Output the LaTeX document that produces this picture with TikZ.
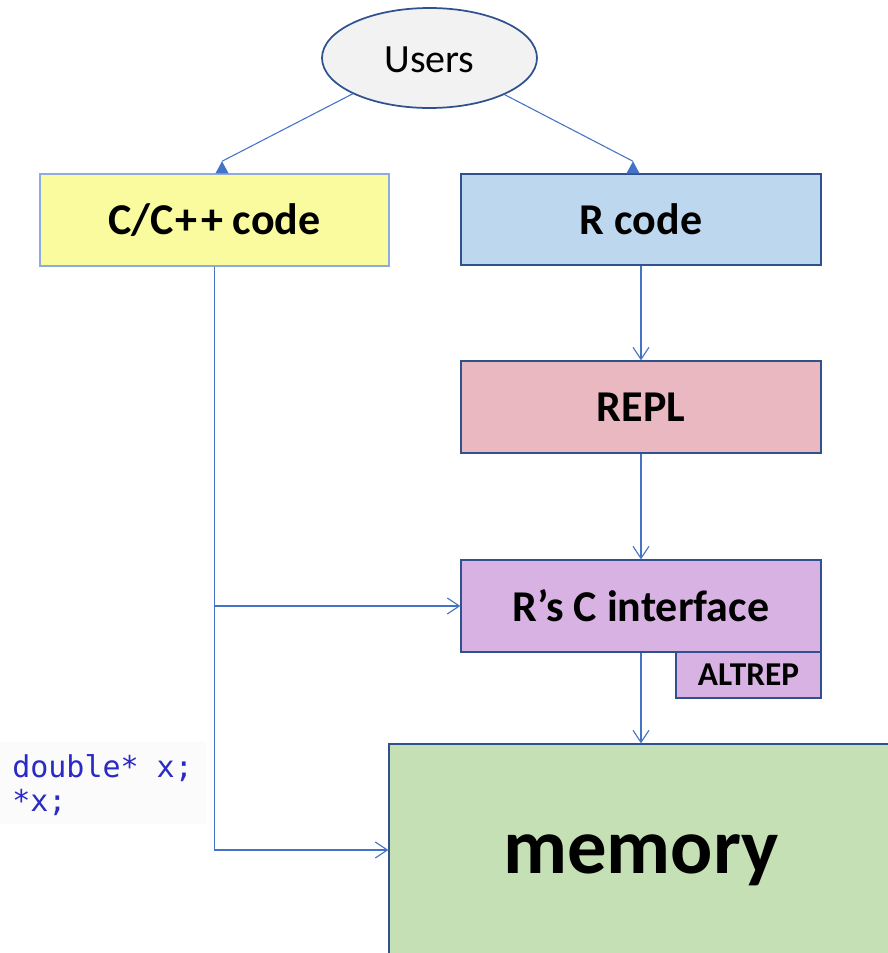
\documentclass[tikz,border=0pt]{standalone}
\usepackage{fontspec}
\setmainfont{Carlito}
\newfontfamily\codefont{DejaVu Sans Mono}
\usetikzlibrary{arrows.meta,shapes.geometric}
\definecolor{conn}{HTML}{4472C4}
\definecolor{edge}{HTML}{2F528F}
\definecolor{edgelight}{HTML}{8FAADC}
\definecolor{cyellow}{HTML}{FAFA9E}
\definecolor{cblue}{HTML}{BDD7EE}
\definecolor{cpink}{HTML}{EAB8C0}
\definecolor{cpurple}{HTML}{D9B2E4}
\definecolor{cgreen}{HTML}{C5E0B4}
\definecolor{cgrey}{HTML}{F2F2F2}
\definecolor{codeblue}{HTML}{2A2AC4}
\definecolor{codebg}{HTML}{FBFBFB}
\def\u{0.75pt}
\tikzset{
  box/.style={draw=edge, line width=1.1pt, rectangle, inner sep=0pt, font=\bfseries\fontsize{33}{36}\selectfont},
  link/.style={draw=conn, line width=0.8pt},
  arr/.style={link, -{Straight Barb[length=9pt,width=12pt,line width=0.8pt]}},
}
\begin{document}
\begin{tikzpicture}[x=0.75pt,y=-0.75pt]
\useasboundingbox (0,0) rectangle (888,953);
\clip (0,0) rectangle (888,953);
\fill[white] (0,0) rectangle (888,953);

% nodes
\node[ellipse, draw=edge, line width=1.3pt, fill=cgrey, minimum width=215*\u, minimum height=100*\u, inner sep=0pt,
      font=\fontsize{30}{32}\selectfont] (users) at (429.5,58) {\raisebox{-11pt}[0pt][0pt]{Users}};
\node[box, draw=edgelight, fill=cyellow, minimum width=349*\u, minimum height=92*\u] (cc) at (214.5,220) {C/C\kern1.5pt+\kern2.5pt+ code};
\node[box, fill=cblue, minimum width=360*\u, minimum height=91*\u] (rc) at (641,219.5) {R code};
\node[box, fill=cpink, minimum width=360*\u, minimum height=92*\u] (repl) at (641,407) {REPL};
\node[box, fill=cpurple, minimum width=360*\u, minimum height=92*\u] (rci) at (641,606) {R’s C interface};
\node[box, fill=cpurple, minimum width=145*\u, minimum height=46*\u, font=\bfseries\fontsize{25}{27}\selectfont] (alt) at (748.5,675) {ALTREP};
\node[box, fill=cgreen, minimum width=504*\u, minimum height=212*\u, font=\bfseries\fontsize{59}{62}\selectfont] (mem) at (641,850) {\raisebox{-17.5pt}[0pt][0pt]{memory}};

\fill[codebg] (0,742) rectangle (206,824);
\node[anchor=west, inner sep=0pt, text=codeblue, align=left, font=\codefont\fontsize{22.5}{25}\selectfont] (code) at (12,785) {double* x;\\*x;};

% connectors from Users (triangle markers sitting on box tops)
\coordinate (tl) at ([xshift=7.5*\u, yshift=12*\u]cc.north);
\coordinate (tr) at ([xshift=-8*\u, yshift=12*\u]rc.north);
\draw[link] (users.205) -- (tl);
\draw[link] (users.334) -- (tr);
\fill[conn] ([xshift=-6.5*\u]cc.north -| tl) -- (tl) -- ([xshift=6.5*\u]cc.north -| tl) -- cycle;
\fill[conn] ([xshift=-6.5*\u]rc.north -| tr) -- (tr) -- ([xshift=6.5*\u]rc.north -| tr) -- cycle;

% vertical chain
\draw[arr] (rc.south) -- (repl.north);
\draw[arr] (repl.south) -- (rci.north);
\draw[arr] (rci.south) -- (rci.south |- mem.north);

% C/C++ path
\draw[arr] (cc.south) -- (cc.south |- mem.west) -- (mem.west);
\draw[arr] (cc.south |- rci.west) -- (rci.west);
\end{tikzpicture}
\end{document}
